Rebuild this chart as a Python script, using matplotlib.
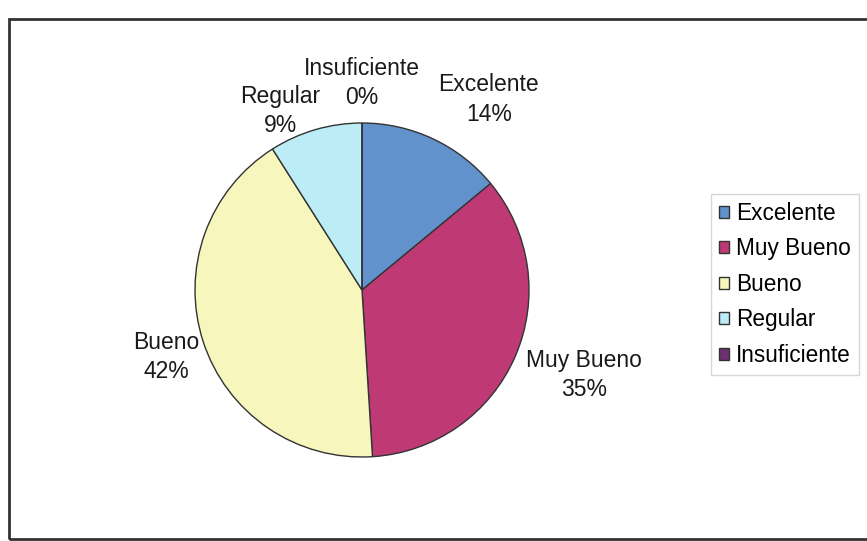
import matplotlib.pyplot as plt
from matplotlib.patches import Rectangle

# datos del grafico
categorias = ['Excelente', 'Muy Bueno', 'Bueno', 'Regular', 'Insuficiente']
porcentajes = [14, 35, 42, 9, 0]
colores = ['#6192cb', '#bf3a74', '#f6f6bd', '#bcecf5', '#6e2f6e']

# posicion de cada etiqueta (en unidades del radio)
pos_etiquetas = [(0.76, 1.14), (1.33, -0.51), (-1.17, -0.40), (-0.49, 1.07), (0.0, 1.24)]

plt.rcParams['font.family'] = ['Liberation Sans', 'DejaVu Sans']

fig = plt.figure(figsize=(8.67, 5.41), dpi=100)
fig.patches.append(Rectangle((9 / 867, 2 / 541), 1.2, (541 - 19 - 2) / 541,
                             transform=fig.transFigure, fill=False,
                             edgecolor='#333333', linewidth=2))

ax = fig.add_axes([195 / 867, (541 - 457) / 541, 334 / 867, 334 / 541])
wedges, _ = ax.pie(porcentajes, colors=colores, startangle=90, counterclock=False,
                   wedgeprops=dict(edgecolor='#333333', linewidth=1))
ax.set_xlim(-1, 1)
ax.set_ylim(-1, 1)
ax.set_aspect('equal')
ax.axis('off')

for cat, val, (x, y) in zip(categorias, porcentajes, pos_etiquetas):
    ax.text(x, y, f'{cat}\n{val}%', ha='center', va='center', fontsize=16.5,
            color='#1a1a1a', linespacing=1.35, clip_on=False)

leg = fig.legend(wedges, categorias, loc='upper left',
                 bbox_to_anchor=(711 / 867, 1 - 194 / 541),
                 fontsize=16.3, frameon=True, fancybox=False,
                 handlelength=0.45, handleheight=0.45, handletextpad=0.3,
                 labelspacing=0.55, borderpad=0.35, borderaxespad=0)
leg.get_frame().set_edgecolor('#cccccc')
leg.get_frame().set_linewidth(1)

fig.savefig('out.png', dpi=100)
